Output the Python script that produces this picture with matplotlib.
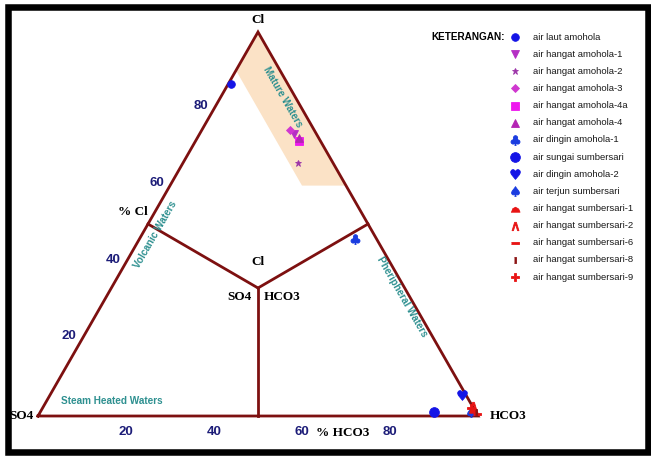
import numpy as np
import matplotlib.pyplot as plt
from matplotlib.patches import Polygon, Rectangle

# Cl - SO4 - HCO3 ternary (Giggenbach) of the Amohola / Sumbersari waters
samples = ['air laut amohola', 'air hangat amohola-1', 'air hangat amohola-2',
           'air hangat amohola-3', 'air hangat amohola-4a', 'air hangat amohola-4',
           'air dingin amohola-1', 'air sungai sumbersari', 'air dingin amohola-2',
           'air terjun sumbersari', 'air hangat sumbersari-1', 'air hangat sumbersari-2',
           'air hangat sumbersari-6', 'air hangat sumbersari-8', 'air hangat sumbersari-9']
cl = [86.5, 73.5, 66.0, 74.5, 71.5, 72.5, 46.0, 1.0, 5.5, 1.0, 1.5, 2.5, 0.5, 1.0, 2.0]
so4 = [13.0, 5.0, 8.0, 5.5, 5.0, 4.5, 5.0, 9.5, 1.0, 1.0, 0.5, 0.0, 0.0, 0.0, 0.5]
hco3 = [0.5, 21.5, 26.0, 20.0, 23.5, 23.0, 49.0, 89.5, 93.5, 98.0, 98.0, 97.5, 99.5, 99.0, 97.5]

cap = [(-1, -0.6), (1, -0.6), (0.7, 0.1), (0, 0.5), (-0.7, 0.1)]
bar = [(-1, -0.35), (1, -0.35), (1, 0.35), (-1, 0.35)]
tick = [(-0.25, -1), (0.25, -1), (0.25, 1), (-0.25, 1)]
markers = ['o', 'v', '*', 'D', 's', '^', r'$♣$', 'o', r'$♥$', r'$♠$',
           cap, r'$\wedge$', bar, tick, 'P']
colors = ['#1414e6', '#b52fc4', '#9c34a8', '#d038d0', '#ee18ee', '#b424b4',
          '#1a3ce0', '#1414e6', '#1414e6', '#1a3ce0', '#e81414', '#e81414',
          '#e81414', '#8c1414', '#e81414']
msizes = [5.5, 6, 5, 4.5, 6, 5.5, 7, 7, 7, 7, 6.5, 6, 6, 4, 6]

frac_ticks = [20, 40, 60, 80]

line_col = '#7d1010'
teal = '#2e9090'
navy = '#1c1c78'


def tern(c, s, h):
    c = np.asarray(c, float)
    s = np.asarray(s, float)
    h = np.asarray(h, float)
    tot = c + s + h
    return (h + c / 2) / tot, c / tot


fig = plt.figure(figsize=(6.51, 4.57), dpi=100)
ax = fig.add_axes([0, 0, 1, 1])
ax.set_xlim(-38 / 440, 613 / 440)
ax.set_ylim(-41 / 384, 416 / 384)
ax.axis('off')

# mature waters band along the Cl-HCO3 side
mx, my = tern([90, 100, 60, 60], [10, 0, 0, 10], [0, 0, 40, 30])
ax.add_patch(Polygon(np.column_stack([mx, my]), closed=True, fc='#fbe2c6', ec='none', zorder=1))

# outline and field boundaries
tx, ty = tern([0, 0, 100, 0], [100, 0, 0, 100], [0, 100, 0, 0])
ax.plot(tx, ty, color=line_col, lw=2, solid_joinstyle='miter', zorder=2)
cx, cy = tern(1, 1, 1)
for c, s, h in [(50, 50, 0), (50, 0, 50), (0, 50, 50)]:
    ex, ey = tern(c, s, h)
    ax.plot([cx, ex], [cy, ey], color=line_col, lw=2, zorder=2)

serif = dict(family='Liberation Serif', fontweight='bold', fontsize=9.5, color='black')
ax.text(0.5, 1.0 + 12 / 384, 'Cl', ha='center', va='center', **serif)
ax.text(-4 / 440, 0, 'SO4', ha='right', va='center', **serif)
ax.text(1 + 12 / 440, 0, 'HCO3', ha='left', va='center', **serif)
ax.text(cx, cy + 26 / 384, 'Cl', ha='center', va='center', **serif)
ax.text(cx - 6 / 440, cy - 9 / 384, 'SO4', ha='right', va='center', **serif)
ax.text(cx + 6 / 440, cy - 9 / 384, 'HCO3', ha='left', va='center', **serif)
ax.text(95 / 440, 204 / 384, '% Cl', ha='center', va='center', **serif)
ax.text(305 / 440, -17 / 384, '% HCO3', ha='center', va='center', **serif)

# percentage ticks
for v in frac_ticks:
    lx, ly = tern(v, 100 - v, 0)
    ax.annotate(str(v), (lx, ly), xytext=(-4, 2), textcoords='offset points',
                ha='right', va='center', color=navy, fontsize=9.5, fontweight='bold',
                family='Liberation Sans')
    bx, by = tern(0, 100 - v, v)
    ax.annotate(str(v), (bx, by), xytext=(0, -7), textcoords='offset points',
                ha='center', va='top', color=navy, fontsize=9.5, fontweight='bold',
                family='Liberation Sans')

zone = dict(color=teal, fontsize=7.2, fontweight='bold', family='Liberation Sans',
            ha='center', va='center', rotation_mode='anchor')
ax.text(245 / 440, 319 / 384, 'Mature Waters', rotation=-60, **zone)
ax.text(117 / 440, 181 / 384, 'Volcanic Waters', rotation=60, **zone)
ax.text(364 / 440, 119 / 384, 'Pheripheral Waters', rotation=-60, **zone)
ax.text(74 / 440, 15 / 384, 'Steam Heated Waters', **zone)

# samples
px, py = tern(cl, so4, hco3)
for i in range(len(samples)):
    ax.plot(px[i], py[i], marker=markers[i], color=colors[i], ms=msizes[i],
            mec=colors[i], mew=0.6, ls='none', zorder=5)

# legend
ax.text(505 / 651, 1 - 37 / 457, 'KETERANGAN:', transform=ax.transAxes, ha='right',
        va='center', fontsize=7.2, fontweight='bold', family='Liberation Sans')
for i, name in enumerate(samples):
    yy = 1 - (37 + 17.15 * i) / 457
    ax.plot(515 / 651, yy, marker=markers[i], color=colors[i], ms=msizes[i],
            mec=colors[i], mew=0.6, ls='none', transform=ax.transAxes, clip_on=False)
    ax.text(533 / 651, yy, name, transform=ax.transAxes, ha='left', va='center',
            fontsize=6.8, family='Liberation Sans', color='#1a1a1a')

fig.add_artist(Rectangle((7.5 / 651, 1 - 452 / 457), 640 / 651, 445 / 457,
                         transform=fig.transFigure, fill=False, ec='black', lw=4.7))

fig.savefig('out.png', dpi=100)
